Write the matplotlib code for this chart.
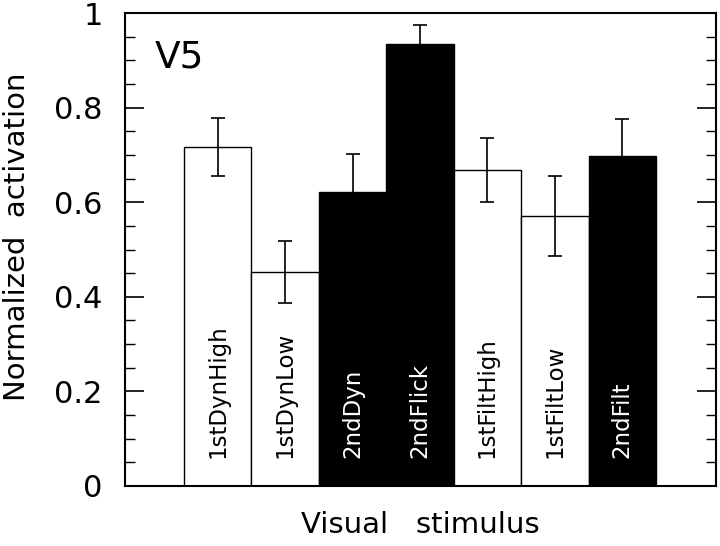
import matplotlib
matplotlib.use("Agg")
import matplotlib.pyplot as plt
import numpy as np

############   DATA   #############
stimuli = ["1stDynHigh", "1stDynLow", "2ndDyn", "2ndFlick",
           "1stFiltHigh", "1stFiltLow", "2ndFilt"]
activation = [0.717, 0.452, 0.622, 0.934, 0.668, 0.571, 0.698]
err = [0.061, 0.066, 0.08, 0.041, 0.067, 0.085, 0.078]
bar_colors = ["white", "white", "black", "black", "white", "white", "black"]
label_colors = ["black", "black", "white", "white", "black", "black", "white"]
yticks = [0, 0.2, 0.4, 0.6, 0.8, 1.0]
ytick_labels = ["0", "0.2", "0.4", "0.6", "0.8", "1"]
yminor = [0.05, 0.1, 0.15, 0.25, 0.3, 0.35, 0.45, 0.5, 0.55,
          0.65, 0.7, 0.75, 0.85, 0.9, 0.95]

plt.rcParams['font.family'] = ['DejaVu Sans']

fig = plt.figure(figsize=(7.2, 5.46), dpi=100)
ax = fig.add_axes([0.1736, 0.110, 0.8208, 0.866])

x = np.arange(1, len(stimuli) + 1)
ax.bar(x, activation, width=1.0, color=bar_colors, edgecolor="black",
       linewidth=1.0, zorder=2)
ax.errorbar(x, activation, yerr=err, fmt="none", ecolor="black",
            elinewidth=1.2, capsize=5, capthick=1.2, zorder=3)

#--- labels inside the bars ---
for xi, name, c in zip(x, stimuli, label_colors):
    ax.text(xi, 0.059, name, rotation=90, ha="center", va="bottom",
            color=c, fontsize=16.5, zorder=4)

ax.text(0.051, 0.884, "V5", transform=ax.transAxes, fontsize=27,
        ha="left", va="baseline")

ax.set_xlim(-0.375, 8.39)
ax.set_ylim(0, 1)
ax.set_xticks([])
ax.set_yticks(yticks, ytick_labels)
ax.set_yticks(yminor, minor=True)
ax.tick_params(axis="y", which="major", direction="in", length=14, width=1.2,
               right=True, labelsize=22, pad=16)
ax.tick_params(axis="y", which="minor", direction="in", length=7, width=1.0,
               right=True)
for s in ax.spines.values():
    s.set_linewidth(1.5)

ax.set_ylabel("Normalized  activation", fontsize=21)
ax.yaxis.set_label_coords(-0.159, 0.526)
ax.set_xlabel("Visual   stimulus", fontsize=21, labelpad=18)

fig.savefig("out.png", dpi=100)
